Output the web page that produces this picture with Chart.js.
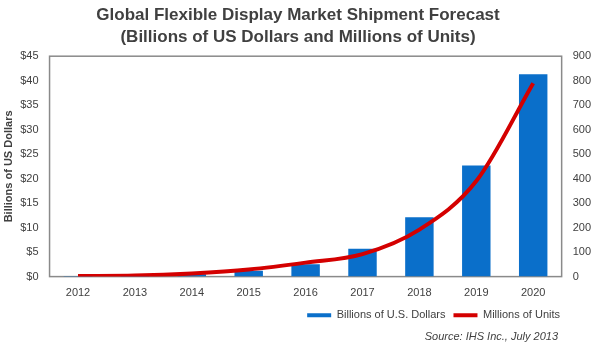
<!DOCTYPE html>
<html>
<head>
<meta charset="utf-8">
<script src="https://cdn.jsdelivr.net/npm/chart.js@4.4.1/dist/chart.umd.min.js"></script>
<style>
  html, body { margin: 0; padding: 0; background: #fff; }
  #wrap { width: 600px; height: 350px; }
</style>
</head>
<body>
<div id="wrap"><canvas id="shipmentChart"></canvas></div>
<script>
// values
const years = ['2012', '2013', '2014', '2015', '2016', '2017', '2018', '2019', '2020'];
const revenueBillions = [0.1, 0.2, 0.5, 1.2, 2.5, 5.7, 12.1, 22.7, 41.3];
const unitsMillions = [2, 4, 13, 29, 57, 92, 192, 390, 790];
const dollarTicks = [0, 5, 10, 15, 20, 25, 30, 35, 40, 45];
const unitTicks = [0, 100, 200, 300, 400, 500, 600, 700, 800, 900];
const sourceNote = 'Source: IHS Inc., July 2013';

const barBlue = '#0a6fca';
const lineRed = '#d40000';
const textGrey = '#404040';

// grey frame round the plot area
const plotFrame = {
    id: 'plotFrame',
    beforeDatasetsDraw(chart) {
        const a = chart.chartArea;
        const ctx = chart.ctx;
        ctx.save();
        ctx.strokeStyle = '#8a8a8a';
        ctx.lineWidth = 1.5;
        ctx.strokeRect(a.left, a.top, a.right - a.left, a.bottom - a.top);
        ctx.restore();
    }
};

// pull legend and source note in from the right edge, like the original
const shiftFooter = {
    id: 'shiftFooter',
    afterLayout(chart) {
        chart.legend.left -= 26;
        chart.legend.right -= 26;
        chart.boxes.forEach(b => {
            if (b.options && b.options.text === sourceNote) {
                b.left -= 36;
                b.right -= 36;
            }
        });
    }
};

const ctx = document.getElementById('shipmentChart').getContext('2d');
const shipmentChart = new Chart(ctx, {
    data: {
        labels: years,
        datasets: [{
            type: 'line',
            label: 'Millions of Units',
            data: unitsMillions,
            yAxisID: 'yUnits',
            borderColor: lineRed,
            backgroundColor: lineRed,
            borderWidth: 4,
            pointRadius: 0,
            cubicInterpolationMode: 'monotone',
            order: 0
        }, {
            type: 'bar',
            label: 'Billions of U.S. Dollars',
            data: revenueBillions,
            yAxisID: 'yDollars',
            backgroundColor: barBlue,
            barPercentage: 0.5,
            categoryPercentage: 1,
            order: 1
        }]
    },
    options: {
        responsive: true,
        maintainAspectRatio: false,
        animation: false,
        layout: { padding: { left: 2, right: 6, top: 0, bottom: 2 } },
        plugins: {
            title: {
                display: true,
                text: ['Global Flexible Display Market Shipment Forecast', '(Billions of US Dollars and Millions of Units)'],
                color: textGrey,
                font: { family: 'Liberation Sans', size: 17, weight: 'bold', lineHeight: 1.3 },
                padding: { top: 4, bottom: 8 }
            },
            subtitle: {
                display: true,
                position: 'bottom',
                align: 'end',
                text: sourceNote,
                color: textGrey,
                font: { family: 'Liberation Sans', size: 11, style: 'italic' },
                padding: { top: 0, bottom: 4 }
            },
            legend: {
                position: 'bottom',
                align: 'end',
                reverse: true,
                labels: {
                    color: textGrey,
                    font: { family: 'Liberation Sans', size: 11 },
                    boxWidth: 24,
                    boxHeight: 4,
                    padding: 8,
                    generateLabels(chart) {
                        return chart.data.datasets.map((ds, i) => ({
                            text: ds.label,
                            fillStyle: ds.type === 'line' ? ds.borderColor : ds.backgroundColor,
                            strokeStyle: ds.type === 'line' ? ds.borderColor : ds.backgroundColor,
                            lineWidth: 0,
                            fontColor: textGrey,
                            datasetIndex: i
                        }));
                    }
                }
            },
            tooltip: { enabled: false }
        },
        scales: {
            x: {
                grid: { display: false },
                border: { color: '#8a8a8a' },
                ticks: { color: textGrey, padding: 2, font: { family: 'Liberation Sans', size: 11 } }
            },
            yDollars: {
                position: 'left',
                min: 0,
                max: 45,
                afterBuildTicks(axis) { axis.ticks = dollarTicks.map(v => ({ value: v })); },
                grid: { display: false },
                border: { color: '#8a8a8a' },
                ticks: {
                    color: textGrey,
                    font: { family: 'Liberation Sans', size: 11 },
                    callback: v => '$' + v
                },
                title: {
                    display: true,
                    text: 'Billions of US Dollars',
                    color: textGrey,
                    font: { family: 'Liberation Sans', size: 11, weight: 'bold' },
                    padding: { top: 0, bottom: 2 }
                }
            },
            yUnits: {
                position: 'right',
                min: 0,
                max: 900,
                afterBuildTicks(axis) { axis.ticks = unitTicks.map(v => ({ value: v })); },
                grid: { display: false },
                border: { color: '#8a8a8a' },
                ticks: { color: textGrey, font: { family: 'Liberation Sans', size: 11 } }
            }
        }
    },
    plugins: [plotFrame, shiftFooter]
});
</script>
</body>
</html>
